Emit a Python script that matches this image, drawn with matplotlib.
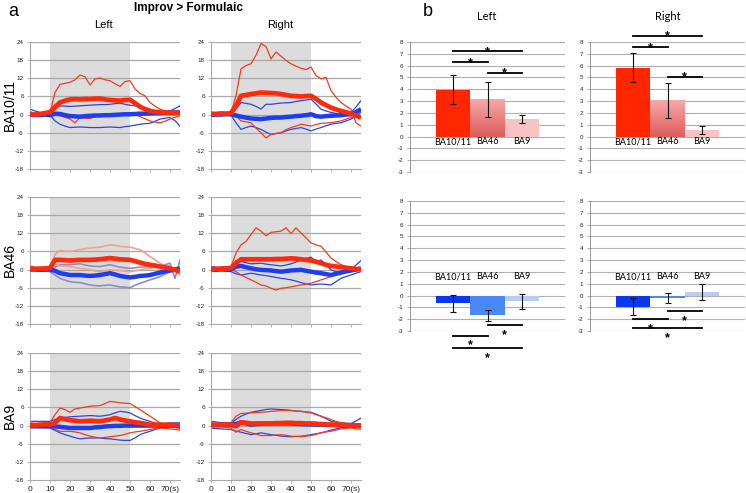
import numpy as np
import matplotlib
matplotlib.use('Agg')
import matplotlib.pyplot as plt
from matplotlib.colors import LinearSegmentedColormap

plt.rcParams['font.family'] = ['Liberation Sans', 'DejaVu Sans']

# ── panel a : time courses (Improv - Formulaic), values read every 2.5 s ──
t_sec = [0, 2.5, 5, 7.5, 10, 12.5, 15, 17.5, 20, 22.5, 25, 27.5, 30, 32.5, 35, 37.5,
         40, 42.5, 45, 47.5, 50, 52.5, 55, 57.5, 60, 62.5, 65, 67.5, 70, 72.5, 75]

# Left BA10/11
L1011_red_mean = [0.3, 0, 0.2, 0.5, 0.8, 2.5, 4.0, 4.6, 5.0, 5.1, 5.0, 5.2, 5.1, 5.3, 5.3, 5.0, 4.8, 4.7, 4.6, 4.8, 4.9, 3.8, 2.6, 1.8, 1.2, 0.9, 0.8, 0.6, 0.7, 0.5, 0.7]
L1011_red_hi = [0.2, 0, 0.3, 0.5, 0.6, 7.3, 10.0, 10.3, 10.7, 11.5, 13.1, 12.5, 9.8, 11.8, 12.1, 11.5, 11.2, 10.2, 9.3, 10.9, 11.2, 8.5, 7.0, 6.2, 4.0, 2.8, 1.8, 1.2, 0.9, 0.6, 0.4]
L1011_red_lo = [0, -0.3, 0, 0.2, 0, -0.2, -0.4, -0.9, -1.5, -2.7, -1.0, -1.2, -1.3, -0.8, -0.4, -0.3, -0.2, 0, 0.1, 0.4, 0.7, 0, -0.7, -1.4, -2.1, -2.5, -2.7, -2.2, -1.5, -0.9, -0.4]
L1011_blue_mean = [0, -0.1, -0.2, 0, -0.2, 0.3, 0.2, -0.2, -0.5, -0.6, -0.7, -0.5, -0.4, -0.3, -0.3, -0.2, -0.2, -0.1, 0, 0.1, 0.1, 0.2, 0.3, 0.3, 0.4, 0.5, 0.5, 0.6, 0.6, 0.7, 0.7]
L1011_blue_hi = [1.8, 1.2, 0.7, 0.5, 0.3, 1.8, 2.9, 2.8, 2.7, 2.8, 2.9, 3.0, 3.1, 3.2, 3.3, 3.3, 3.4, 3.6, 3.8, 3.4, 3.1, 2.9, 2.7, 2.2, 1.8, 1.2, 0.7, 0.9, 1.2, 2.0, 2.9]
L1011_blue_lo = [0, -0.2, -0.3, -0.1, -0.2, -2.1, -3.2, -3.8, -4.3, -4.2, -4.1, -4.2, -4.3, -4.3, -4.3, -4.2, -4.1, -4.2, -4.3, -4.0, -3.8, -3.5, -3.2, -3.0, -2.9, -2.2, -1.5, -1.2, -1.0, -2.0, -3.8]

# Right BA10/11
R1011_red_mean = [0.3, 0.2, 0.4, 0.3, 0.5, 2.9, 6.2, 6.5, 6.8, 7.0, 7.3, 7.2, 7.1, 7.0, 6.8, 6.5, 6.2, 6.1, 6.0, 6.1, 6.2, 5.2, 4.0, 3.1, 2.3, 1.7, 1.2, 0.8, 0.3, -0.3, -1.0]
R1011_red_hi = [0.5, 0.3, 0.6, 0.4, 0.5, 6.2, 15.1, 16.2, 16.8, 19.6, 23.5, 22.5, 18.4, 20.7, 19.3, 17.9, 16.8, 16.0, 15.3, 14.9, 15.7, 12.9, 11.8, 12.3, 7.9, 5.7, 4.0, 2.8, 1.8, -2.7, -3.8]
R1011_red_lo = [0, -0.2, 0.2, 0, -0.2, -0.4, -2.1, -2.4, -2.7, -4.5, -6.0, -7.7, -6.6, -6.2, -6.0, -5.0, -4.3, -3.8, -3.2, -3.5, -3.8, -3.3, -2.9, -2.8, -2.7, -2.4, -2.1, -1.5, -1.0, -0.7, -0.4]
R1011_blue_mean = [0, 0.1, 0, 0.1, 0.1, -0.3, -0.7, -1.0, -1.3, -1.4, -1.5, -1.3, -1.1, -1.0, -1.0, -0.8, -0.7, -0.5, -0.4, -0.2, 0.1, -0.5, -0.7, -0.5, -0.4, -0.3, -0.2, 0, 0.1, 0.8, 1.8]
R1011_blue_hi = [-0.4, 0, 0.2, 0.3, 0.1, 1.8, 4.0, 3.7, 3.4, 2.7, 1.8, 3.4, 3.4, 3.6, 3.8, 3.9, 4.0, 4.3, 4.6, 4.8, 5.1, 3.5, 1.8, 1.2, 0.7, 0.4, 0.1, 0.4, 0.7, 2.5, 4.6]
R1011_blue_lo = [-0.7, -0.5, -0.3, -0.2, -0.2, -2.7, -4.9, -4.3, -3.8, -4.3, -4.9, -5.8, -6.6, -6.3, -6.0, -5.4, -4.9, -4.6, -4.3, -4.8, -5.4, -4.8, -4.3, -3.7, -3.2, -2.9, -2.7, -2.1, -1.5, -0.5, 0.7]

# Left BA46
L46_red_mean = [0.3, 0.2, 0.3, 0.4, 0.5, 3.2, 3.2, 3.1, 3.0, 3.1, 3.2, 3.2, 3.2, 3.3, 3.4, 3.6, 3.8, 3.6, 3.4, 3.3, 3.2, 2.8, 2.3, 1.9, 1.6, 1.3, 1.0, 0.7, 0.4, -0.1, -0.7]
L46_red_hi = [0.5, 0.4, 0.5, 0.5, 0.5, 4.9, 6.3, 6.1, 6.0, 6.3, 6.6, 6.9, 7.1, 7.3, 7.4, 7.8, 8.2, 8.0, 7.7, 7.5, 7.4, 7.0, 6.6, 5.5, 4.3, 3.2, 2.1, 1.2, 0.4, -0.4, -1.2]
L46_red_lo = [0.1, 0, 0.1, 0, 0, 1.6, 1.2, 1.1, 1.0, 0.7, 0.4, 0.2, -0.1, -0.4, -0.7, -0.4, -0.1, -0.2, -0.3, -0.5, -0.7, -0.4, -0.1, 0.2, 0.4, 0.7, 1.0, 1.1, 1.2, 0, -1.8]
L46_blue_mean = [0, 0, -0.1, 0, 0, -0.4, -1.2, -1.5, -1.8, -1.8, -1.8, -2.0, -2.1, -2.0, -1.8, -1.5, -1.2, -1.6, -2.1, -2.4, -2.6, -2.4, -2.1, -2.0, -1.8, -1.4, -1.0, -0.6, -0.3, 0, 0.4]
L46_blue_hi = [1.2, 0.8, 0.5, 0.3, 0.1, 0.8, 1.6, 1.6, 1.6, 1.8, 1.9, 1.5, 1.2, 1.1, 1.0, 1.3, 1.6, 1.2, 0.8, 0.6, 0.4, 0.6, 0.8, 0.9, 1.0, 1.1, 1.2, 1.6, 2.1, -2.9, 3.2]
L46_blue_lo = [-0.1, -0.3, -0.4, -0.5, -0.7, -1.8, -2.9, -3.5, -4.0, -4.2, -4.3, -4.7, -5.1, -5.3, -5.4, -5.2, -5.1, -5.4, -5.7, -5.8, -6.0, -5.2, -4.5, -4.0, -3.4, -2.9, -2.3, -1.5, -0.7, -0.4, -0.1]

# Right BA46
R46_red_mean = [0.3, 0.2, 0.3, 0.4, 0.5, 2.1, 3.4, 3.4, 3.4, 3.4, 3.4, 3.4, 3.4, 3.5, 3.5, 3.6, 3.7, 3.6, 3.4, 3.2, 3.0, 2.6, 2.1, 1.6, 1.2, 1.0, 0.8, 0.6, 0.4, 0.2, 0.1]
R46_red_hi = [0.5, 0.6, 0.8, 0.9, 1.0, 5.4, 8.2, 9.3, 11.6, 13.8, 12.7, 11.2, 12.3, 12.5, 12.7, 13.8, 11.9, 13.8, 12.1, 10.5, 8.8, 8.2, 7.7, 5.8, 3.8, 2.7, 1.6, 1.0, 0.4, 0.1, -0.1]
R46_red_lo = [0, -0.1, 0, 0.1, 0, -0.7, -1.8, -2.6, -3.4, -4.2, -5.1, -5.4, -6.2, -6.8, -6.2, -6.0, -5.7, -5.4, -5.1, -4.8, -4.5, -4.0, -3.4, -2.9, -2.3, -1.8, -1.2, -0.9, -0.7, -0.4, -0.1]
R46_blue_mean = [0, -0.1, 0.1, 0, 0, 1.0, 1.2, 0.8, 0.4, 0.1, -0.1, -0.2, -0.3, -0.5, -0.7, -0.5, -0.3, -0.2, -0.1, -0.4, -0.7, -1.0, -1.2, -1.5, -1.8, -1.4, -1.0, -0.6, -0.3, 0, 0.4]
R46_blue_hi = [1.0, 0.8, 0.6, 0.5, 0.4, 3.0, 2.7, 2.3, 1.9, 2.0, 2.1, 1.8, 1.6, 1.4, 1.2, 1.5, 1.9, 2.5, 3.2, 3.7, 4.1, 2.7, 3.2, 1.5, -0.1, -0.7, -1.2, -0.6, -0.1, 1.5, 3.0]
R46_blue_lo = [-0.1, -0.3, -0.4, -0.5, -0.7, -1.4, -1.8, -1.5, -1.2, -1.5, -1.8, -2.0, -2.3, -2.6, -2.9, -3.1, -3.4, -3.8, -4.3, -4.7, -5.1, -4.9, -4.8, -4.9, -5.1, -4.0, -2.9, -2.3, -1.8, -1.2, -0.7]

# Left BA9
L9_red_mean = [0.3, 0.2, 0.3, 0.4, 0.3, 0.9, 2.5, 2.1, 1.8, 1.6, 1.4, 1.5, 1.6, 1.5, 1.4, 1.7, 2.0, 2.5, 2.0, 1.7, 1.4, 1.1, 0.9, 0.6, 0.3, 0.3, 0.3, 0.3, 0.3, 0.1, 0]
L9_red_hi = [0.5, 0.6, 0.7, 0.8, 1.0, 3.6, 5.8, 5.3, 4.4, 5.5, 5.8, 6.1, 6.4, 6.5, 6.6, 7.3, 8.0, 7.8, 7.5, 7.4, 7.3, 6.3, 5.3, 4.2, 3.1, 2.0, 0.9, 0.4, 0, -0.5, -1.1]
L9_red_lo = [0, -0.2, 0, -0.1, 0, -1.3, -1.9, -1.9, -1.9, -2.1, -2.4, -3.0, -3.5, -3.8, -4.1, -3.9, -3.7, -3.5, -3.3, -2.9, -2.4, -2.1, -1.9, -1.6, -1.3, -1.0, -0.8, -0.9, -1.1, -1.3, -1.5]
L9_blue_mean = [0, 0, -0.1, -0.1, -0.2, -0.3, -0.4, -0.6, -0.8, -0.8, -0.8, -0.8, -0.8, -0.6, -0.5, -0.3, -0.2, -0.1, -0.1, 0, 0, 0, 0, 0, 0, 0, 0, 0, 0, 0, 0]
L9_blue_hi = [1.4, 1.4, 1.4, 1.4, 1.4, 2.0, 2.5, 2.7, 2.9, 3.0, 3.1, 3.2, 3.3, 3.2, 3.1, 3.3, 3.6, 4.2, 4.7, 4.5, 4.2, 3.3, 2.5, 1.9, 1.4, 0.8, 0.3, 0.6, 0.9, 0.9, 0.9]
L9_blue_lo = [-0.8, -0.8, -0.8, -0.8, -0.8, -1.6, -2.4, -3.0, -3.5, -4.0, -4.4, -4.2, -4.1, -4.1, -4.1, -4.3, -4.4, -4.6, -4.8, -4.9, -4.9, -4.1, -3.0, -2.4, -1.9, -1.3, -0.8, -0.6, -0.4, -0.6, -0.8]

# Right BA9
R9_red_mean = [0.3, 0.2, 0.3, 0.3, 0.3, -0.2, 1.1, 0.9, 0.7, 0.7, 0.7, 0.7, 0.7, 0.8, 0.8, 0.9, 0.9, 0.8, 0.8, 0.7, 0.7, 0.6, 0.5, 0.4, 0.3, 0.3, 0.2, 0.1, 0.1, 0, 0]
R9_red_hi = [0.5, 0.6, 0.7, 0.8, 0.9, 3.1, 4.0, 4.1, 4.2, 4.3, 4.4, 4.5, 4.7, 4.8, 5.0, 5.0, 5.0, 4.8, 4.7, 4.5, 4.2, 3.6, 3.1, 2.6, 2.0, 1.4, 0.9, 0.6, 0.3, 0, -0.2]
R9_red_lo = [-0.3, -0.4, -0.5, -0.6, -0.8, -2.2, -1.3, -1.9, -2.4, -2.8, -3.3, -3.3, -3.3, -3.1, -3.0, -3.2, -3.5, -3.6, -3.7, -3.5, -3.3, -2.9, -2.4, -2.1, -1.9, -1.5, -1.1, -0.9, -0.8, -1.0, -1.3]
R9_blue_mean = [0.2, 0.2, 0.3, 0.3, 0.3, 0.5, 1.1, 0.7, 0.3, 0.5, 0.6, 0.7, 0.7, 0.7, 0.7, 0.7, 0.7, 0.6, 0.5, 0.4, 0.4, 0.3, 0.3, 0.2, 0.2, 0.1, 0.1, 0, 0, 0, 0]
R9_blue_hi = [1.4, 1.2, 1.0, 0.9, 0.9, 2.0, 3.1, 3.8, 4.4, 4.7, 5.0, 5.3, 5.5, 5.4, 5.3, 5.2, 5.0, 4.8, 4.7, 4.5, 4.4, 3.8, 3.1, 2.3, 1.4, 1.1, 0.9, 0.8, 0.7, 1.5, 2.5]
R9_blue_lo = [-0.8, -1.0, -1.1, -1.2, -1.3, -1.8, -2.2, -2.6, -3.0, -2.7, -2.4, -2.7, -3.0, -3.2, -3.5, -3.6, -3.7, -3.6, -3.5, -3.3, -3.0, -2.7, -2.4, -2.0, -1.5, -1.1, -0.8, -0.5, -0.2, -0.5, -0.8]

row_labels = ['BA10/11', 'BA46', 'BA9']
x_ticks = [0, 10, 20, 30, 40, 50, 60, 70]
x_ticklabels = ['0', '10', '20', '30', '40', '50', '60', '70(s)']
y_ticks = [-18, -12, -6, 0, 6, 12, 18, 24]

# ── panel b : mean differences per region ──
regions = ['BA10/11', 'BA46', 'BA9']
pos_left_vals = [3.97, 3.15, 1.48]
pos_left_err = [1.23, 1.50, 0.34]
pos_right_vals = [5.82, 3.05, 0.54]
pos_right_err = [1.23, 1.52, 0.34]
neg_left_vals = [-0.64, -1.67, -0.50]
neg_left_err = [0.72, 0.46, 0.66]
neg_right_vals = [-0.94, -0.22, 0.31]
neg_right_err = [0.74, 0.45, 0.66]
# significance brackets: (from, to, height)
pos_left_sig = [(0, 2, 7.22), (0, 1, 6.29), (1, 2, 5.39)]
pos_right_sig = [(0, 2, 8.53), (0, 1, 7.54), (1, 2, 5.03)]
neg_left_sig = [(1, 2, -2.50), (0, 1, -3.39), (0, 2, -4.42)]
neg_right_sig = [(1, 2, -1.31), (0, 1, -1.97), (0, 2, -2.78)]

W, H = 746, 493
fig = plt.figure(figsize=(W / 100, H / 100), dpi=100)
fig.patch.set_facecolor('white')


def px_axes(x0, y0, x1, y1):
    return fig.add_axes([x0 / W, 1 - y1 / H, (x1 - x0) / W, (y1 - y0) / H])


RED = '#ff2a0a'
BLUE = '#1e3cf0'
GRID = '#a8a8a8'

panels = [
    # (row, col, red_mean, red_hi, red_lo, blue_mean, blue_hi, blue_lo, faded)
    (0, 0, L1011_red_mean, L1011_red_hi, L1011_red_lo, L1011_blue_mean, L1011_blue_hi, L1011_blue_lo, False),
    (0, 1, R1011_red_mean, R1011_red_hi, R1011_red_lo, R1011_blue_mean, R1011_blue_hi, R1011_blue_lo, False),
    (1, 0, L46_red_mean, L46_red_hi, L46_red_lo, L46_blue_mean, L46_blue_hi, L46_blue_lo, True),
    (1, 1, R46_red_mean, R46_red_hi, R46_red_lo, R46_blue_mean, R46_blue_hi, R46_blue_lo, False),
    (2, 0, L9_red_mean, L9_red_hi, L9_red_lo, L9_blue_mean, L9_blue_hi, L9_blue_lo, False),
    (2, 1, R9_red_mean, R9_red_hi, R9_red_lo, R9_blue_mean, R9_blue_hi, R9_blue_lo, False),
]
row_top = [42, 197, 353]
col_left = [30, 211]

for row, col, rm, rh, rl, bm, bh, bl, faded in panels:
    ax = px_axes(col_left[col], row_top[row], col_left[col] + 150, row_top[row] + 127)
    ax.set_xlim(0, 75)
    ax.set_ylim(-18, 24)
    ax.axvspan(10, 50, color='#dcdcdc', lw=0, zorder=0)
    for yv in y_ticks[1:]:
        ax.axhline(yv, color=GRID, lw=0.9, zorder=1)
    thin_red = '#f2a286' if faded else '#f03c1e'
    thin_blue = '#8c8cc8' if faded else '#2c44e6'
    for s in (bh, bl):
        ax.plot(t_sec, s, color=thin_blue, lw=0.9 if not faded else 1.2, zorder=2)
    for s in (rh, rl):
        ax.plot(t_sec, s, color=thin_red, lw=0.9 if not faded else 1.2, zorder=2)
    ax.plot(t_sec, bm, color=BLUE, lw=3.2, zorder=3, solid_capstyle='butt')
    ax.plot(t_sec, rm, color=RED, lw=3.4, zorder=4, solid_capstyle='butt')
    for side in ['top', 'right']:
        ax.spines[side].set_visible(False)
    ax.spines['left'].set_color(GRID)
    ax.spines['bottom'].set_color(GRID)
    ax.set_yticks(y_ticks)
    ax.set_yticklabels([str(v) for v in y_ticks], fontsize=4.5)
    ax.set_xticks(x_ticks)
    if row == 2:
        ax.set_xticklabels(x_ticklabels, fontsize=6)
    else:
        ax.set_xticklabels([])
    ax.tick_params(length=2.5, width=0.6, color=GRID, pad=2, labelcolor='#222222')
    if col == 0:
        fig.text(10 / W, 1 - (row_top[row] + 63) / H, row_labels[row], rotation=90,
                 ha='center', va='center', fontsize=10)

fig.text(8 / W, 1 - 11 / H, 'a', fontsize=13, ha='left', va='center')
fig.text(188 / W, 1 - 8 / H, 'Improv > Formulaic', fontsize=8.5, fontweight='bold',
         ha='center', va='center')
fig.text(103 / W, 1 - 25 / H, 'Left', fontsize=8, ha='center', va='center')
fig.text(280 / W, 1 - 25 / H, 'Right', fontsize=8, ha='center', va='center')

# ── panel b bars ──
fig.text(428 / W, 1 - 11 / H, 'b', fontsize=13, ha='center', va='center')
fig.text(487 / W, 1 - 16 / H, 'Left', fontsize=8, ha='center', va='center',
         family=['Lato', 'DejaVu Sans'])
fig.text(668 / W, 1 - 16 / H, 'Right', fontsize=8, ha='center', va='center',
         family=['Lato', 'DejaVu Sans'])

red_cols = ['#ff2600', '#ef8585', '#f7c3c3']
blue_cols = ['#0a38f0', '#4a88f8', '#b8cdf2']

bar_panels = [
    (410, 42, pos_left_vals, pos_left_err, pos_left_sig, red_cols, True),
    (590, 42, pos_right_vals, pos_right_err, pos_right_sig, red_cols, True),
    (410, 201, neg_left_vals, neg_left_err, neg_left_sig, blue_cols, False),
    (590, 201, neg_right_vals, neg_right_err, neg_right_sig, blue_cols, False),
]

for x0, y0, vals, errs, sig, cols, positive in bar_panels:
    ax = px_axes(x0, y0, x0 + 155, y0 + 130)
    ax.set_xlim(-1.25, 3.25)
    ax.set_ylim(-3, 8)
    for yv in range(-3, 9):
        ax.axhline(yv, color='#b0b0b0', lw=0.8, zorder=1)
    xs = np.arange(len(regions))
    bars = ax.bar(xs, vals, width=1.0, color=cols, zorder=2)
    if positive:
        # BA46 bar has a darker-to-lighter gradient
        b = bars[1]
        grad = np.linspace(0, 1, 64).reshape(-1, 1)
        cmap = LinearSegmentedColormap.from_list('g', ['#f7a8a8', '#de5c5c'])
        im = ax.imshow(grad, extent=(b.get_x(), b.get_x() + b.get_width(), 0, b.get_height()),
                       cmap=cmap, aspect='auto', zorder=2.5, origin='upper')
        im.set_clip_path(b)
    ax.errorbar(xs, vals, yerr=errs, fmt='none', ecolor='#111111', elinewidth=0.8,
                capsize=2.5, capthick=0.8, zorder=4)
    lab_y = -0.45 if positive else 1.6
    for xi, name in zip(xs, regions):
        ax.text(xi, lab_y, name, ha='center', va='center', fontsize=6.5,
                family=['Lato', 'DejaVu Sans'], zorder=5)
    for i, j, yl in sig:
        ax.plot([i, j], [yl, yl], color='black', lw=1.3, zorder=5, clip_on=False)
        ys = yl - 0.3 if positive else yl - 1.1
        ax.text((i + j) / 2, ys, '*', ha='center', va='baseline', fontsize=9,
                fontweight='bold', zorder=5, clip_on=False)
    for side in ['top', 'right', 'bottom']:
        ax.spines[side].set_visible(False)
    ax.spines['left'].set_color('#888888')
    ax.spines['left'].set_linewidth(0.6)
    ax.set_xticks([])
    ax.set_yticks(range(-3, 9))
    ax.set_yticklabels([str(v) for v in range(-3, 9)], fontsize=4.5)
    ax.tick_params(axis='y', length=2, width=0.5, color='#888888', pad=3, labelcolor='#222222')

fig.savefig('out.png', dpi=100, facecolor='white')
